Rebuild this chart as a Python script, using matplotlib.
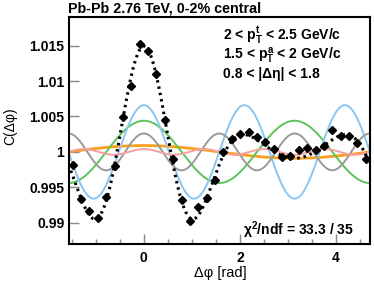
import matplotlib
matplotlib.use("Agg")
import matplotlib.pyplot as plt
import numpy as np

# 36 bins in dphi from -pi/2 to 3pi/2
n_bins = 36
edges = np.linspace(-np.pi / 2, 3 * np.pi / 2, n_bins + 1)
dphi = 0.5 * (edges[:-1] + edges[1:])

corr = [0.99822, 0.99333, 0.99164, 0.99061, 0.99365, 0.99798, 1.00494, 1.00931,
        1.01520, 1.01420, 1.01100, 1.00450, 0.99893, 0.99319, 0.99027, 0.99220,
        0.99343, 0.99601, 0.99992, 1.00189, 1.00259, 1.00274, 1.00217, 1.00133,
        1.00038, 0.99921, 0.99949, 1.00024, 1.00055, 1.00020, 1.00080, 1.00306,
        1.00221, 1.00221, 1.00130, 0.99900]
corr_err = 0.0004

# fourier coefficients 2*V_n of the fit
harmonics = [1, 2, 3, 4, 5]
two_vn = [0.0009, 0.0044, 0.0066, 0.0026, 0.0004]
colors = ["#f7a01e", "#5cc45a", "#8cc6f0", "#9a9a9a", "#f4a0a0"]
widths = [2.0, 1.4, 1.4, 1.4, 1.4]

plt.rcParams["font.family"] = ["Liberation Sans", "DejaVu Sans"]
plt.rcParams["mathtext.fontset"] = "custom"
plt.rcParams["mathtext.rm"] = "Liberation Sans:bold"
plt.rcParams["mathtext.it"] = "Liberation Sans:bold"
plt.rcParams["mathtext.bf"] = "Liberation Sans:bold"

fig = plt.figure(figsize=(3.74, 2.83), dpi=100)
ax = fig.add_axes([68.5 / 374, 39 / 283, 301.5 / 374, 226.7 / 283])

x = np.linspace(-np.pi / 2, 3 * np.pi / 2, 600)
fit = np.ones_like(x)
for n, v, c, lw in zip(harmonics, two_vn, colors, widths):
    comp = v * np.cos(n * x)
    fit += comp
    ax.plot(x, 1 + comp, color=c, lw=lw, zorder=2)

ax.plot(x, fit, color="black", lw=2.2, ls=(0, (0.8, 1.3)), zorder=3)
ax.errorbar(dphi, corr, yerr=corr_err, xerr=0.05, fmt="D", ms=4.5,
            color="black", elinewidth=1.3, capsize=0, zorder=4)

ax.set_xlim(-np.pi / 2, 3 * np.pi / 2)
ax.set_ylim(0.987, 1.019)
ax.set_xticks([0, 2, 4])
ax.set_xticks(np.arange(-1.5, 4.75, 0.5), minor=True)
ax.set_yticks([0.99, 0.995, 1.0, 1.005, 1.01, 1.015])
ax.set_yticklabels(["0.99", "0.995", "1", "1.005", "1.01", "1.015"])
ax.tick_params(which="both", direction="in", color="#888888", width=1.0,
               labelsize=10, top=False, right=False)
ax.tick_params(which="major", length=7)
ax.tick_params(which="minor", length=3.5)
ax.tick_params(axis="x", pad=5)
ax.tick_params(axis="y", pad=3)
for lab in ax.get_xticklabels() + ax.get_yticklabels():
    lab.set_fontweight("bold")
for sp in ax.spines.values():
    sp.set_linewidth(1.5)

ax.set_xlabel("Δφ [rad]", fontsize=10.5)
ax.xaxis.set_label_coords(0.502, -0.095)
ax.set_ylabel("C(Δφ)", fontsize=10)
ax.yaxis.set_label_coords(-0.17, 0.52)

fig.text(68 / 374, 1 - 8.5 / 283, "Pb-Pb 2.76 TeV, 0-2% central",
         fontsize=10.3, fontweight="bold", va="center", ha="left")
fig.text(223 / 374, 1 - 35 / 283, r"2 < $p_T^t$ < 2.5 GeV/c",
         fontsize=10, fontweight="bold", va="center", ha="left")
fig.text(223 / 374, 1 - 56 / 283, r"1.5 < $p_T^a$ < 2 GeV/c",
         fontsize=10, fontweight="bold", va="center", ha="left")
fig.text(223 / 374, 1 - 74 / 283, "0.8 < |Δη| < 1.8",
         fontsize=10, fontweight="bold", va="center", ha="left")
fig.text(243 / 374, 1 - 230 / 283, r"χ$^2$/ndf = 33.3 / 35",
         fontsize=10, fontweight="bold", va="center", ha="left")

fig.savefig("out.png", dpi=100)
